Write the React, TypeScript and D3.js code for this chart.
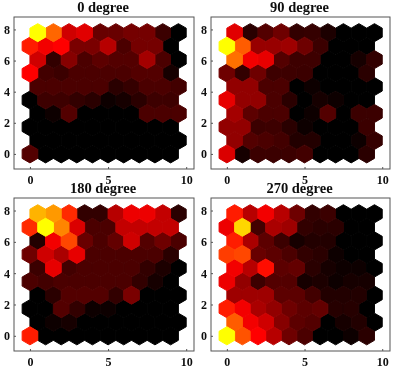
import React, { useEffect, useRef } from 'react';
import * as d3 from 'd3';

// SOM hit maps, rows listed top (row 9) to bottom (row 0), 0-100 colour level
const titles = ['0 degree', '90 degree', '180 degree', '270 degree'];
const xTicks = [0, 5, 10];
const yTicks = [0, 2, 4, 6, 8];

const map0 = [
  [100, 70, 42, 45, 25, 25, 27, 27, 14, 0],
  [55, 48, 50, 28, 28, 38, 18, 27, 27, 0],
  [42, 12, 30, 18, 22, 20, 20, 35, 18, 0],
  [50, 16, 14, 18, 18, 18, 18, 20, 20, 6],
  [18, 18, 18, 18, 18, 10, 13, 18, 18, 16],
  [0, 15, 15, 12, 10, 2, 5, 10, 15, 15],
  [0, 4, 20, 0, 0, 0, 0, 18, 18, 18],
  [0, 0, 0, 0, 0, 0, 0, 0, 1, 0],
  [0, 0, 0, 0, 0, 0, 0, 0, 0, 0],
  [20, 0, 0, 1, 0, 0, 0, 0, 0, 0],
];
const map90 = [
  [45, 10, 20, 26, 12, 13, 7, 0, 0, 0],
  [100, 68, 33, 33, 34, 26, 14, 0, 0, 0],
  [72, 48, 46, 20, 15, 15, 0, 0, 5, 12],
  [26, 12, 26, 15, 15, 14, 0, 0, 0, 10],
  [32, 32, 18, 18, 0, 2, 1, 0, 0, 0],
  [46, 32, 32, 18, 10, 0, 5, 3, 0, 0],
  [35, 22, 18, 18, 0, 3, 20, 0, 14, 14],
  [32, 32, 14, 15, 10, 3, 0, 0, 0, 14],
  [32, 20, 18, 16, 8, 8, 0, 0, 2, 13],
  [44, 6, 14, 14, 14, 16, 0, 0, 0, 10],
];
const map180 = [
  [85, 80, 58, 12, 12, 38, 47, 47, 40, 10],
  [58, 100, 76, 44, 18, 18, 40, 40, 40, 40],
  [8, 48, 64, 25, 18, 24, 42, 20, 26, 18],
  [26, 42, 36, 46, 18, 18, 18, 18, 18, 10],
  [14, 46, 16, 18, 18, 18, 18, 12, 7, 0],
  [18, 16, 18, 18, 18, 18, 18, 12, 5, 0],
  [0, 10, 20, 20, 20, 12, 28, 0, 0, 0],
  [0, 0, 20, 12, 4, 2, 0, 0, 0, 0],
  [0, 3, 5, 0, 0, 0, 0, 0, 0, 0],
  [56, 0, 0, 0, 0, 0, 0, 0, 0, 0],
];
const map270 = [
  [55, 38, 48, 38, 26, 12, 14, 0, 0, 0],
  [47, 92, 16, 36, 34, 12, 10, 10, 0, 0],
  [55, 36, 22, 14, 6, 8, 8, 0, 0, 0],
  [62, 64, 25, 22, 18, 12, 10, 4, 0, 0],
  [48, 38, 52, 22, 24, 10, 6, 3, 2, 0],
  [47, 32, 15, 20, 20, 5, 7, 4, 5, 6],
  [34, 34, 34, 22, 22, 16, 8, 8, 8, 0],
  [55, 48, 36, 32, 26, 22, 24, 9, 9, 0],
  [68, 48, 42, 30, 22, 20, 1, 5, 8, 0],
  [100, 66, 50, 38, 26, 18, 0, 0, 3, 10],
];
const maps = [map0, map90, map180, map270];

const boxes = [
  { left: 14, top: 17, right: 194, bottom: 169 },
  { left: 211, top: 17, right: 390, bottom: 169 },
  { left: 14, top: 198, right: 194, bottom: 351 },
  { left: 211, top: 198, right: 390, bottom: 351 },
];

const rowStep = Math.sqrt(3) / 2;
const hexR = 1 / Math.sqrt(3);
const colour = d3.scaleLinear<string>()
  .domain([0, 25, 50, 100])
  .range(['#000000', '#680000', '#ff0000', '#ffff00']);
const font = '"Liberation Serif", serif';

export default function App() {
  const svgRef = useRef<SVGSVGElement>(null);

  useEffect(() => {
    const svg = d3.select(svgRef.current);
    svg.selectAll('*').remove();
    svg.append('defs').append('filter').attr('id', 'soft')
      .append('feGaussianBlur').attr('stdDeviation', 0.45);
    const root = svg.append('g').attr('filter', 'url(#soft)');

    maps.forEach((map, i) => {
      const box = boxes[i];
      const x = d3.scaleLinear().domain([-1.02, 10.5]).range([box.left, box.right]);
      const y = d3.scaleLinear().domain([-0.97, 8.8]).range([box.bottom, box.top]);
      const g = root.append('g');

      const hexLine = d3.line<[number, number]>().x(d => x(d[0])).y(d => y(d[1]));
      const hexagon = (cx: number, cy: number) =>
        hexLine(d3.range(6).map(k => {
          const a = (Math.PI / 3) * k + Math.PI / 6;
          return [cx + hexR * Math.cos(a), cy + hexR * Math.sin(a)] as [number, number];
        })) + 'Z';

      const cells = map.flatMap((row, r) => {
        const rowIndex = map.length - 1 - r;
        return row.map((v, c) => ({
          cx: c + (rowIndex % 2 ? 0.5 : 0),
          cy: rowIndex * rowStep,
          v,
        }));
      });

      // dark cells first so the seams between neighbours don't show
      const ordered = [...cells].sort((a, b) => a.v - b.v);
      g.selectAll('path.hex').data(ordered).enter().append('path')
        .attr('class', 'hex')
        .attr('d', d => hexagon(d.cx, d.cy))
        .attr('fill', d => colour(d.v))
        .attr('stroke', d => colour(d.v))
        .attr('stroke-width', 1);

      g.append('rect')
        .attr('x', box.left).attr('y', box.top)
        .attr('width', box.right - box.left).attr('height', box.bottom - box.top)
        .attr('fill', 'none').attr('stroke', '#555').attr('stroke-width', 1);

      const xAxis = g.append('g')
        .attr('transform', `translate(0,${box.bottom})`)
        .call(d3.axisBottom(x).tickValues(xTicks).tickFormat(d3.format('d')).tickSizeInner(-2).tickSizeOuter(0).tickPadding(6));
      const yAxis = g.append('g')
        .attr('transform', `translate(${box.left},0)`)
        .call(d3.axisLeft(y).tickValues(yTicks).tickFormat(d3.format('d')).tickSizeInner(-2).tickSizeOuter(0).tickPadding(4));
      [xAxis, yAxis].forEach(a => {
        a.select('.domain').remove();
        a.selectAll('line').attr('stroke', '#555');
        a.selectAll('text')
          .attr('font-family', font).attr('font-weight', 700).attr('font-size', 12).attr('fill', '#111');
      });

      g.append('text')
        .attr('x', (box.left + box.right) / 2 - 1)
        .attr('y', box.top - 5)
        .attr('text-anchor', 'middle')
        .attr('font-family', font).attr('font-weight', 700).attr('font-size', 14.5).attr('fill', '#111')
        .text(titles[i]);
    });
  }, []);

  return <svg ref={svgRef} width={394} height={368} style={{ position: 'absolute', left: 0, top: 0, background: '#fff' }} />;
}
